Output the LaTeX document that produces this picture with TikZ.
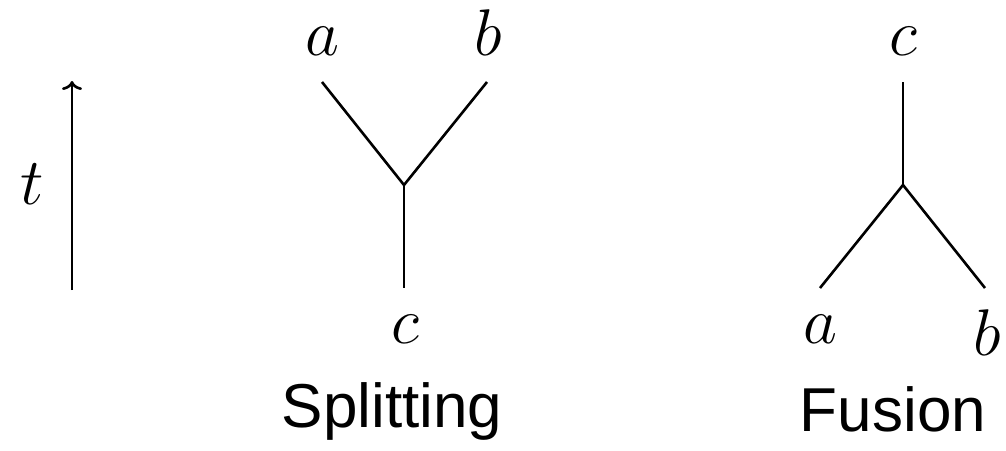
\RequirePackage{fix-cm}
\documentclass[tikz,border=0pt]{standalone}
\usepackage{fontspec}
\newfontfamily\labelfont{Liberation Sans}
\usetikzlibrary{arrows.meta}
\begin{document}
\begin{tikzpicture}[x=1pt,y=-1pt,
  ln/.style={line width=2.6pt},
  lbl/.style={inner sep=0pt,anchor=base,font=\fontsize{66}{70}\selectfont},
  captext/.style={inner sep=0pt,anchor=base,font=\labelfont\fontsize{62}{66}\selectfont}]
\useasboundingbox (0,0) rectangle (1006,450);
% time arrow
\coordinate (tb) at (72,290);
\coordinate (tt) at (72,81);
\draw[ln,-{To[length=9pt,width=20pt]}] (tb) -- (tt);
\node[lbl] (t) at (32,204) {$t$};
% splitting
\node[lbl] (sa) at (322,55) {$a$};
\node[lbl] (sb) at (488,55) {$b$};
\node[lbl] (sc) at (405,343) {$c$};
\coordinate (sa1) at (322,82);
\coordinate (sb1) at (487,82);
\coordinate (sj) at (404,185);
\coordinate (sc1) at (404,288);
\draw[ln] (sa1) -- (sj) -- (sb1);
\draw[ln] (sj) -- (sc1);
\node[captext] (split) at (392,427) {Splitting};
% fusion
\node[lbl] (fc) at (903,55) {$c$};
\node[lbl] (fa) at (820,343) {$a$};
\node[lbl] (fb) at (987,355) {$b$};
\coordinate (fc1) at (903,82);
\coordinate (fj) at (903,185);
\coordinate (fa1) at (820,288);
\coordinate (fb1) at (985,288);
\draw[ln] (fc1) -- (fj);
\draw[ln] (fa1) -- (fj) -- (fb1);
\node[captext] (fus) at (893,431) {Fusion};
\end{tikzpicture}
\end{document}
